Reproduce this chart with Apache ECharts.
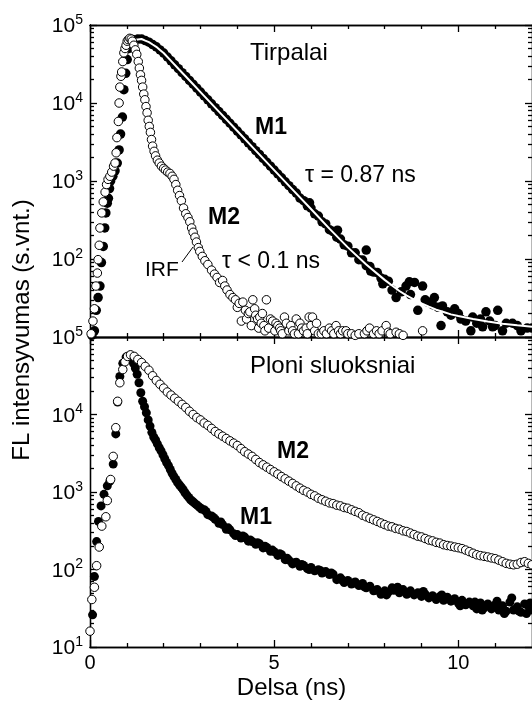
<!DOCTYPE html>
<html>
<head>
<meta charset="utf-8">
<script src="https://cdn.jsdelivr.net/npm/echarts@6/dist/echarts.min.js"></script>
<style>
  html, body { margin: 0; padding: 0; background: #fff; }
  #chart { width: 532px; height: 701px; }
</style>
</head>
<body>
<div id="chart"></div>
<script>
// ---------- Time-resolved fluorescence, solutions (top) ----------
// Instrument response function, [time ns, counts]
const irfSolution = [[0.03,11],[0.08,16],[0.12,23],[0.16,45],[0.2,66],[0.22,98],[0.25,150],[0.27,250],[0.32,390],[0.36,540],[0.41,720],[0.45,900],[0.49,1050],[0.54,1150],[0.59,1300],[0.64,1550],[0.68,1700],[0.71,2300],[0.73,3600],[0.77,5800],[0.79,10000],[0.81,16000],[0.84,22000],[0.86,25000],[0.89,34000],[0.92,44000],[0.95,50000],[0.98,55000],[1.01,62000],[1.04,65000],[1.08,67500],[1.12,66000],[1.15,62000],[1.19,55000],[1.23,48000],[1.27,42000],[1.31,34000],[1.34,28000],[1.37,23000],[1.4,19500],[1.43,16000],[1.46,13000],[1.49,11000],[1.52,9000],[1.55,7500],[1.58,6000],[1.61,5000],[1.64,4200],[1.67,3400],[1.7,2800],[1.74,2400],[1.78,2100],[1.83,1850],[1.88,1700],[1.94,1550],[2.0,1450],[2.05,1380],[2.11,1300],[2.17,1250],[2.23,1150],[2.28,1050],[2.33,900],[2.38,760],[2.43,650],[2.48,560],[2.54,450],[2.6,380],[2.66,340],[2.71,300],[2.76,250],[2.8,220],[2.85,190],[2.89,165],[2.94,140],[2.98,125],[3.05,108],[3.12,95],[3.2,85],[3.3,72],[3.38,64],[3.45,58],[3.52,50],[3.6,53],[3.66,45],[3.72,40],[3.8,35],[3.88,32],[3.95,30],[4.0,24],[4.05,27],[4.11,16],[4.15,28],[4.22,22],[4.25,17],[4.3,20],[4.34,21],[4.38,14],[4.42,30],[4.47,23],[4.5,19],[4.55,17],[4.58,13],[4.61,18],[4.65,15],[4.68,20],[4.72,14],[4.75,12],[4.79,30],[4.85,13],[4.9,17],[4.96,16],[5.02,12],[5.05,15],[5.1,14],[5.15,13],[5.18,12],[5.22,11],[5.28,18],[5.33,15],[5.4,12],[5.45,14],[5.5,12],[5.55,11],[5.6,17],[5.66,11],[5.7,15],[5.75,13],[5.8,12],[5.87,13],[5.9,11],[5.95,18],[6.0,14],[6.04,18],[6.1,12],[6.15,15],[6.2,11],[6.28,11],[6.35,12],[6.42,11],[6.5,13],[6.56,12],[6.62,11],[6.68,14],[6.75,12],[6.8,11],[6.86,12],[6.95,12],[7.0,11],[7.1,11],[7.2,10.5],[7.3,11],[7.45,11],[7.52,12],[7.59,13],[7.7,11],[7.78,12],[7.85,11],[7.93,12],[8.04,14],[8.1,11.5],[8.15,11],[8.31,11.5],[8.4,11],[8.5,10.5],[9.03,12]];

// M1 in solution: rising edge, [time ns, counts]
const m1SolutionRise = [[0.05,10.5],[0.12,12],[0.17,22],[0.22,32],[0.27,45],[0.31,90],[0.36,145],[0.4,250],[0.43,390],[0.47,520],[0.5,600],[0.53,800],[0.56,1000],[0.62,1150],[0.68,1350],[0.74,1700],[0.79,2500],[0.83,4000],[0.88,6600],[0.92,14800],[0.97,24000],[1.01,36000],[1.06,50000],[1.11,60000],[1.16,65000]];
// M1 in solution: decay on 0.1 ns channels starting at 1.2 ns
const m1SolutionDecayStart = 1.2;
const m1SolutionDecay = [63100,66100,66100,63100,60300,56200,52500,47900,43700,
  38900,34700,30900,27500,24500,21900,19500,17400,15500,13800,
  12300,11000,9770,8710,7760,6920,6170,5500,4900,4370,
  3890,3470,3090,2750,2450,2190,1950,1740,1550,1380,
  1230,1100,977,871,776,700,605,560,480,450,
  380,355,300,282,238,225,190,180,152,146,
  120,120,98,97,82,80,68,67,57,55];
// M1 in solution: noisy tail, [time ns, counts]
const m1SolutionTail = [[5.96,525],[6.72,234],[7.5,130],[7.62,70],[7.95,48],[8.1,52],[8.2,40],[8.31,32],[8.45,38],[8.58,45],[8.67,51],[8.7,35],[8.81,50],[8.9,22],[9.03,45],[9.1,30],[9.17,28],[9.3,26],[9.35,32],[9.45,24],[9.53,14],[9.57,25],[9.7,21],[9.8,19],[9.9,23],[10.0,20],[10.07,17],[10.2,16],[10.34,12],[10.39,18],[10.5,15],[10.6,17],[10.66,13.5],[10.75,21],[10.85,16],[10.93,13.5],[11.0,14],[11.07,22],[11.2,12],[11.3,15],[11.47,15],[11.6,14],[11.7,12],[11.87,13],[12.0,13]];
// Single-exponential fit of M1 (tau = 0.87 ns), [time ns, counts]
const m1SolutionFit = [[1.25,64500],[1.4,66100],[1.5,63100],[1.6,60300],[1.7,56200],[1.8,52500],[1.9,47900],[2.0,43700],[2.2,34700],[2.4,27500],[2.6,21900],[2.8,17400],[3.0,13800],[3.5,7760],[4.0,4370],[4.5,2450],[5.0,1380],[5.5,776],[6.0,437],[6.5,245],[7.0,141],[7.5,85],[8.0,54],[8.2,45.7],[8.4,38.9],[8.6,33.9],[8.8,30.2],[9.0,26.9],[9.2,24.5],[9.4,22.4],[9.6,20.9],[9.8,19.5],[10.0,18.6],[10.4,17.0],[10.8,15.8],[11.2,14.8],[11.6,14.1],[12.0,13.5]];

// ---------- Thin films (bottom) ----------
const m1FilmRise = [[0.07,26],[0.12,81],[0.18,229],[0.23,417],[0.3,661],[0.38,933],[0.47,1200],[0.54,1380],[0.63,2290],[0.7,5620],[0.75,14500],[0.81,30900],[0.89,45700],[0.98,55000]];
// 0.05 ns channels from 1.08 ns
const m1FilmEarlyStart = 1.08;
const m1FilmEarly = [57500,51300,45700,39800,33100,25700,19100,14800,12600,10500,
  8510,7080,5890,5130,4680,4170,3720,3390,3020,2690,
  2400,2190,1950,1740,1580,1450,1320,1230,1150,1070,
  977,912,851,794,759,724,692,661,631,603];
// 0.1 ns channels from 3.1 ns
const m1FilmLateStart = 3.1;
const m1FilmLate = [590,510,490,445,395,380,330,325,290,
  282,255,262,232,230,212,215,190,192,172,
  170,152,155,134,132,118,124,110,113,103,
  106,96,99,90,94,86,87,74,78,68,
  72,65,69,62,66,58,61,53,55,48,
  53,51,58,57,50,55,48,53,47,50,
  45,48,43,46,41,45,40,44,39,42,
  37,40,35,38,34,31,37,32,36,31,
  35,30,34,29,38,30,33,28,36,34,
  30];
const m1FilmExtra = [[3.15,560],[3.35,470],[3.55,410],[3.75,345],[3.95,275],[4.15,270],[4.35,240],[4.55,222],[4.75,200],[4.95,178],[5.15,160],[5.35,140],[5.55,122],[5.75,116],[5.95,100],[6.25,97],[6.55,90],[6.85,73],[7.15,67],[7.45,60],[7.75,54],[7.95,49],[8.05,47],[8.25,54],[8.35,59],[9.05,52],[9.55,47],[10.05,34],[10.45,38],[10.65,30],[11.05,39],[11.25,27],[11.45,43],[11.65,29],[11.85,27],[11.95,37]];

const m2FilmRise = [[0.0,16],[0.05,41],[0.12,59],[0.18,112],[0.25,195],[0.32,363],[0.43,479],[0.47,776],[0.56,1450],[0.63,2880],[0.7,6760],[0.75,14800],[0.81,25700],[0.89,38000],[0.95,47900],[1.02,56200]];
// 0.1 ns channels from 1.1 ns
const m2FilmDecayStart = 1.1;
const m2FilmDecay = [58900,56200,51300,46800,41700,37200,31600,27500,24500,21900,
  19500,17800,16200,14800,13500,12300,11000,10000,9120,8510,
  7760,7240,6610,6030,5620,5250,4900,4570,4270,3980,
  3630,3310,3090,2880,2630,2400,2240,2090,1950,1820,
  1700,1580,1480,1380,1290,1200,1120,1050,1000,933,
  891,832,794,759,724,708,676,661,631,617,
  589,562,540,501,479,457,437,417,398,380,
  363,355,339,331,316,309,295,282,269,263,
  251,240,234,224,219,209,204,200,195,191,
  186,178,170,162,155,151,148,145,141,138,
  132,126,120,117,115,117,123,126,120,115];

// Axis ticks
const xMajor = [0, 5, 10];
const xMinor = [1, 2, 3, 4, 6, 7, 8, 9, 11];
const yMajor = [10, 100, 1000, 10000, 100000];
const yMinor = [];
[10, 100, 1000, 10000].forEach(d => { for (let m = 2; m <= 9; m++) yMinor.push(m * d); });

// Pair channel values with their channel times
function channels(start, step, values) {
  return values.map((v, i) => [+(start + i * step).toFixed(3), v]);
}

const FONT = '"Liberation Sans", Arial, Helvetica, sans-serif';
const INK = '#000';
const LINE_W = 1.3;

function xAxis(grid, position, ticks, len, showLabels, name) {
  const ax = {
    type: 'value', gridIndex: grid, position: position, min: 0, max: 12,
    axisLine: { show: true, onZero: false, lineStyle: { color: INK, width: LINE_W } },
    axisTick: { show: true, inside: true, length: len, customValues: ticks, lineStyle: { color: INK, width: LINE_W } },
    axisLabel: showLabels ? {
      show: true, customValues: xMajor, margin: 6, fontSize: 20, fontFamily: FONT, color: INK
    } : { show: false },
    splitLine: { show: false },
    minorTick: { show: false }
  };
  if (name) {
    ax.name = name;
    ax.nameLocation = 'middle';
    ax.nameGap = 29;
    ax.nameTextStyle = { fontSize: 24, fontFamily: FONT, color: INK, padding: [0, 39, 0, 0] };
  }
  return ax;
}

function yAxis(grid, position, ticks, len, labelValues) {
  return {
    type: 'log', logBase: 10, gridIndex: grid, position: position, min: 10, max: 100000,
    axisLine: { show: true, onZero: false, lineStyle: { color: INK, width: LINE_W } },
    axisTick: { show: true, inside: true, length: len, customValues: ticks, lineStyle: { color: INK, width: LINE_W } },
    axisLabel: labelValues ? {
      show: true, customValues: labelValues, margin: 7,
      formatter: v => '{b|10}{e|' + Math.round(Math.log10(v)) + '}',
      rich: {
        b: { fontSize: 21, fontFamily: FONT, color: INK, lineHeight: 24, verticalAlign: 'bottom' },
        e: { fontSize: 14, fontFamily: FONT, color: INK, lineHeight: 16, verticalAlign: 'top' }
      }
    } : { show: false },
    splitLine: { show: false },
    minorTick: { show: false }
  };
}

const xAxes = [
  xAxis(0, 'bottom', xMajor, 7, false),
  xAxis(0, 'bottom', xMinor, 4, false),
  xAxis(0, 'top', xMajor, 7, false),
  xAxis(0, 'top', xMinor, 4, false),
  xAxis(1, 'bottom', xMajor, 7, true, 'Delsa (ns)'),
  xAxis(1, 'bottom', xMinor, 4, false),
  xAxis(1, 'top', xMajor, 7, false),
  xAxis(1, 'top', xMinor, 4, false)
];
const yAxes = [
  yAxis(0, 'left', yMajor, 7, [100, 1000, 10000, 100000]),
  yAxis(0, 'left', yMinor, 4, null),
  yAxis(0, 'right', yMajor, 7, null),
  yAxis(0, 'right', yMinor, 4, null),
  yAxis(1, 'left', yMajor, 7, yMajor),
  yAxis(1, 'left', yMinor, 4, null),
  yAxis(1, 'right', yMajor, 7, null),
  yAxis(1, 'right', yMinor, 4, null)
];

const filled = { color: INK, borderWidth: 0, opacity: 1 };
const open = { color: '#fff', borderColor: INK, borderWidth: 1, opacity: 1 };

function scatter(name, grid, data, style, size) {
  return {
    name: name, type: 'scatter', xAxisIndex: grid * 4, yAxisIndex: grid * 4,
    data: data, symbol: 'circle', symbolSize: size, itemStyle: style,
    silent: true, animation: false
  };
}

function text(str, x, y, size, bold) {
  return {
    type: 'text', x: x, y: y, silent: true,
    style: {
      text: str, font: (bold ? 'bold ' : '') + size + 'px ' + FONT, fill: INK,
      align: 'left', verticalAlign: 'middle', textAlign: 'left', textVerticalAlign: 'middle'
    }
  };
}

const option = {
  backgroundColor: '#fff',
  animation: false,
  grid: [
    { left: 90, top: 25, width: 442, height: 312, containLabel: false },
    { left: 90, top: 337, width: 442, height: 312, containLabel: false }
  ],
  xAxis: xAxes,
  yAxis: yAxes,
  series: [
    scatter('M1 tirpalas', 0, m1SolutionRise.concat(channels(m1SolutionDecayStart, 0.1, m1SolutionDecay), m1SolutionTail), filled, 9.5),
    {
      name: 'M1 aproksimacija', type: 'line', xAxisIndex: 0, yAxisIndex: 0,
      data: m1SolutionFit, showSymbol: false, smooth: false, silent: true,
      lineStyle: { color: '#fff', width: 2 }, z: 3
    },
    Object.assign(scatter('IRF', 0, irfSolution, open, 8.5), { z: 4 }),
    scatter('M1 sluoksnis', 1, m1FilmRise.concat(channels(m1FilmEarlyStart, 0.05, m1FilmEarly), channels(m1FilmLateStart, 0.1, m1FilmLate), m1FilmExtra), filled, 9),
    Object.assign(scatter('M2 sluoksnis', 1, m2FilmRise.concat(channels(m2FilmDecayStart, 0.1, m2FilmDecay)), open, 8.5), { z: 4 })
  ],
  graphic: [
    {
      type: 'text', x: 22, y: 330, rotation: Math.PI / 2, silent: true,
      style: {
        text: 'FL intensyvumas (s.vnt.)', font: '24px ' + FONT, fill: INK,
        align: 'center', verticalAlign: 'middle', textAlign: 'center', textVerticalAlign: 'middle'
      }
    },
    text('Tirpalai', 250, 53, 24, false),
    text('M1', 255, 128, 23, true),
    text('\u03c4 = 0.87 ns', 305, 176, 23, false),
    text('M2', 208, 218, 23, true),
    text('IRF', 145, 270, 21, false),
    text('\u03c4 < 0.1 ns', 222, 262, 23, false),
    { type: 'line', silent: true, shape: { x1: 182, y1: 262, x2: 193, y2: 247 }, style: { stroke: INK, lineWidth: 1 } },
    text('Ploni sluoksniai', 250, 366, 24, false),
    text('M2', 277, 452, 23, true),
    text('M1', 240, 518, 23, true)
  ]
};

const chart = echarts.init(document.getElementById('chart'), null, { renderer: 'canvas' });
chart.setOption(option);
</script>
</body>
</html>
